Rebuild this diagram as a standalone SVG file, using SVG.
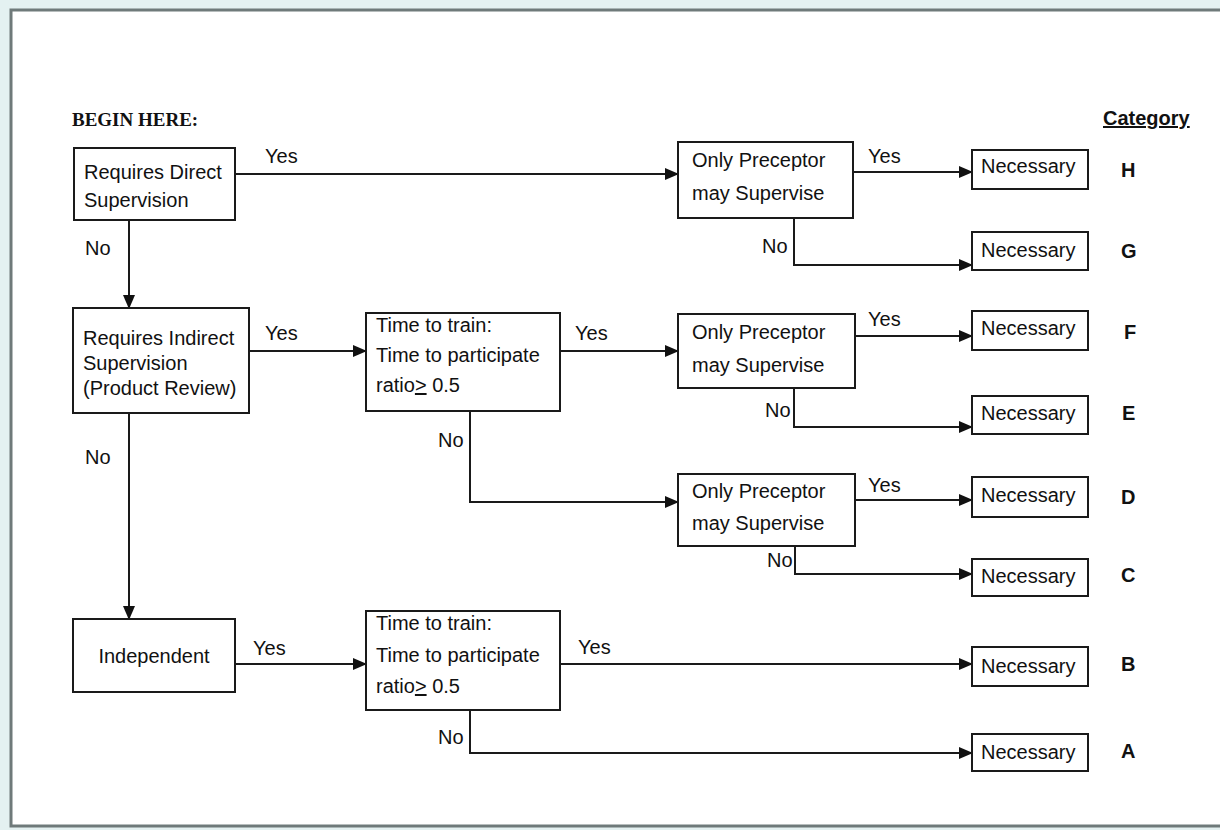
<svg xmlns="http://www.w3.org/2000/svg" width="1220" height="830" viewBox="0 0 1220 830">
<defs>
<style>
.box{fill:#fff;stroke:#1a1a1a;stroke-width:2}
.t{font-family:"Liberation Sans",Arial,sans-serif;font-size:20px;fill:#111}
.lbl{font-family:"Liberation Sans",Arial,sans-serif;font-size:20px;fill:#111}
.cat{font-family:"Liberation Sans",Arial,sans-serif;font-size:20px;font-weight:bold;fill:#111}
.c{fill:none;stroke:#1a1a1a;stroke-width:2}
</style>
<marker id="ah" markerWidth="14" markerHeight="12" refX="13" refY="6" orient="auto" markerUnits="userSpaceOnUse">
<path d="M0,0 L14,6 L0,12 Z" fill="#111"/>
</marker>
</defs>
<rect x="0" y="0" width="1220" height="830" fill="#e4f1f1"/>
<rect x="11" y="10" width="1215" height="816" fill="#fff" stroke="#6f7a7a" stroke-width="3"/>
<text x="72" y="126" font-family="Liberation Serif,Times New Roman,serif" font-size="19" font-weight="bold" fill="#111">BEGIN HERE:</text>
<text x="1103" y="125" class="lbl" font-weight="bold" text-decoration="underline">Category</text>

<g id="connectors">
<path class="c" d="M235,174 H678" marker-end="url(#ah)"/>
<path class="c" d="M129,220 V308" marker-end="url(#ah)"/>
<path class="c" d="M249,351 H366" marker-end="url(#ah)"/>
<path class="c" d="M129,413 V619" marker-end="url(#ah)"/>
<path class="c" d="M235,664 H366" marker-end="url(#ah)"/>
<path class="c" d="M560,351 H678" marker-end="url(#ah)"/>
<path class="c" d="M470,411 V502 H678" marker-end="url(#ah)"/>
<path class="c" d="M560,664 H972" marker-end="url(#ah)"/>
<path class="c" d="M470,710 V753 H972" marker-end="url(#ah)"/>
<path class="c" d="M853,172 H972" marker-end="url(#ah)"/>
<path class="c" d="M794,218 V265 H972" marker-end="url(#ah)"/>
<path class="c" d="M855,336 H972" marker-end="url(#ah)"/>
<path class="c" d="M794,388 V427 H972" marker-end="url(#ah)"/>
<path class="c" d="M855,500 H972" marker-end="url(#ah)"/>
<path class="c" d="M795,546 V574 H972" marker-end="url(#ah)"/>
<text class="lbl" x="265" y="163">Yes</text>
<text class="lbl" x="85" y="255">No</text>
<text class="lbl" x="265" y="340">Yes</text>
<text class="lbl" x="85" y="464">No</text>
<text class="lbl" x="253" y="655">Yes</text>
<text class="lbl" x="575" y="340">Yes</text>
<text class="lbl" x="438" y="447">No</text>
<text class="lbl" x="578" y="654">Yes</text>
<text class="lbl" x="438" y="744">No</text>
<text class="lbl" x="868" y="163">Yes</text>
<text class="lbl" x="762" y="253">No</text>
<text class="lbl" x="868" y="326">Yes</text>
<text class="lbl" x="765" y="417">No</text>
<text class="lbl" x="868" y="492">Yes</text>
<text class="lbl" x="767" y="567">No</text>
</g>

<g id="n-direct"><rect class="box" x="74" y="148" width="161" height="72"/>
<text class="t" x="84" y="179">Requires Direct</text><text class="t" x="84" y="207">Supervision</text></g>
<g id="n-indirect"><rect class="box" x="73" y="308" width="176" height="105"/>
<text class="t" x="83" y="345">Requires Indirect</text><text class="t" x="83" y="370">Supervision</text><text class="t" x="83" y="395">(Product Review)</text></g>
<g id="n-independent"><rect class="box" x="73" y="619" width="162" height="73"/>
<text class="t" x="154" y="663" text-anchor="middle">Independent</text></g>
<g id="n-ratio1"><rect class="box" x="366" y="313" width="194" height="98"/>
<text class="t" x="376" y="332">Time to train:</text><text class="t" x="376" y="362">Time to participate</text><text class="t" x="376" y="392">ratio<tspan text-decoration="underline">&gt;</tspan> 0.5</text></g>
<g id="n-ratio2"><rect class="box" x="366" y="611" width="194" height="99"/>
<text class="t" x="376" y="630">Time to train:</text><text class="t" x="376" y="662">Time to participate</text><text class="t" x="376" y="693">ratio<tspan text-decoration="underline">&gt;</tspan> 0.5</text></g>
<g id="n-prec1"><rect class="box" x="678" y="142" width="175" height="76"/>
<text class="t" x="692" y="167">Only Preceptor</text><text class="t" x="692" y="200">may Supervise</text></g>
<g id="n-prec2"><rect class="box" x="678" y="314" width="177" height="74"/>
<text class="t" x="692" y="339">Only Preceptor</text><text class="t" x="692" y="372">may Supervise</text></g>
<g id="n-prec3"><rect class="box" x="678" y="474" width="177" height="72"/>
<text class="t" x="692" y="498">Only Preceptor</text><text class="t" x="692" y="530">may Supervise</text></g>

<g id="n-H"><rect class="box" x="972" y="150" width="116" height="39"/><text class="t" x="981" y="173">Necessary</text><text class="cat" x="1121" y="177">H</text></g>
<g id="n-G"><rect class="box" x="972" y="232" width="116" height="38"/><text class="t" x="981" y="257">Necessary</text><text class="cat" x="1121" y="258">G</text></g>
<g id="n-F"><rect class="box" x="972" y="311" width="116" height="39"/><text class="t" x="981" y="335">Necessary</text><text class="cat" x="1124" y="339">F</text></g>
<g id="n-E"><rect class="box" x="972" y="396" width="116" height="38"/><text class="t" x="981" y="420">Necessary</text><text class="cat" x="1122" y="420">E</text></g>
<g id="n-D"><rect class="box" x="972" y="477" width="116" height="40"/><text class="t" x="981" y="502">Necessary</text><text class="cat" x="1121" y="504">D</text></g>
<g id="n-C"><rect class="box" x="972" y="559" width="116" height="37"/><text class="t" x="981" y="583">Necessary</text><text class="cat" x="1121" y="582">C</text></g>
<g id="n-B"><rect class="box" x="972" y="647" width="116" height="39"/><text class="t" x="981" y="673">Necessary</text><text class="cat" x="1121" y="671">B</text></g>
<g id="n-A"><rect class="box" x="972" y="734" width="116" height="37"/><text class="t" x="981" y="759">Necessary</text><text class="cat" x="1121" y="758">A</text></g>
</svg>
